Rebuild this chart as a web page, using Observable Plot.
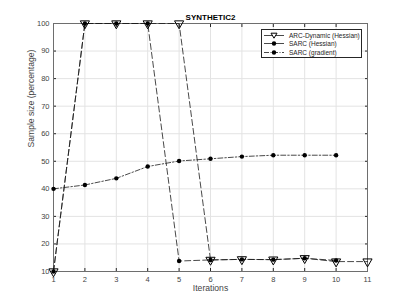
<!DOCTYPE html>
<html>
<head>
<meta charset="utf-8">
<script src="https://cdn.jsdelivr.net/npm/d3@7"></script>
<script src="https://cdn.jsdelivr.net/npm/@observablehq/plot@0.6"></script>
<style>
  html, body { margin: 0; padding: 0; background: #fff; }
  #wrap { position: relative; width: 407px; height: 305px; font-family: "Liberation Sans", Arial, sans-serif; }
  #wrap svg.plot { position: absolute; left: 0; top: 0; }
  #legend { position: absolute; left: 261px; top: 29px; width: 99px; height: 27px; border: 1px solid #262626; background: #fff; font-size: 6.5px; color: #262626; }
  .row { position: absolute; left: 0; height: 9px; display: flex; align-items: center; }
  .row svg { display: block; }
  .row span { margin-left: 3px; white-space: nowrap; }
</style>
</head>
<body>
<div id="wrap"></div>
<script>
const title = "SYNTHETIC2";
const xLabel = "Iterations";
const yLabel = "Sample size (percentage)";
const xTicks = [1, 2, 3, 4, 5, 6, 7, 8, 9, 10, 11];
const yTicks = [10, 20, 30, 40, 50, 60, 70, 80, 90, 100];

const seriesNames = ["ARC-Dynamic (Hessian)", "SARC (Hessian)", "SARC (gradient)"];
const arcIter = [1, 2, 3, 4, 5, 6, 7, 8, 9, 10, 11];
const arcValues = [10, 100, 100, 100, 100, 14.2, 14.4, 14.3, 14.8, 13.6, 13.6];
const sarcHIter = [1, 2, 3, 4, 5, 6, 7, 8, 9, 10];
const sarcHValues = [10, 100, 100, 100, 13.8, 14.2, 14.4, 14.3, 14.8, 14.0];
const sarcGIter = [1, 2, 3, 4, 5, 6, 7, 8, 9, 10];
const sarcGValues = [40, 41.4, 43.8, 48.1, 50.1, 50.9, 51.7, 52.2, 52.2, 52.2];

const arc = arcIter.map((x, i) => ({x, y: arcValues[i]}));
const sarcH = sarcHIter.map((x, i) => ({x, y: sarcHValues[i]}));
const sarcG = sarcGIter.map((x, i) => ({x, y: sarcGValues[i]}));

const lineColor = "#1a1a1a";
const axisColor = "#262626";
const tickText = "#444";
const dashA = "6,3";
const dashB = "6,3";
const dashC = "5,2,1.5,2";

const chart = Plot.plot({
  width: 407,
  height: 305,
  marginLeft: 53,
  marginRight: 40,
  marginTop: 23,
  marginBottom: 34,
  style: {fontFamily: "'Liberation Sans', Arial, sans-serif", fontSize: "7.5px", color: axisColor, background: "#fff"},
  x: {domain: [1, 11]},
  y: {domain: [10, 100]},
  marks: [
    Plot.gridX(xTicks, {stroke: "#e3e3e3", strokeOpacity: 1, strokeWidth: 1}),
    Plot.gridY(yTicks, {stroke: "#e3e3e3", strokeOpacity: 1, strokeWidth: 1}),
    Plot.axisX(xTicks, {anchor: "bottom", tickSize: -3, tickPadding: 8, label: null, stroke: axisColor, fill: tickText}),
    Plot.axisX(xTicks, {anchor: "top", tickSize: -3, tickFormat: () => "", label: null, stroke: axisColor}),
    Plot.axisY(yTicks, {anchor: "left", tickSize: -3, tickPadding: 7, label: null, stroke: axisColor, fill: tickText}),
    Plot.axisY(yTicks, {anchor: "right", tickSize: -3, tickFormat: () => "", label: null, stroke: axisColor}),
    Plot.frame({stroke: "#6e6e6e", strokeWidth: 1}),
    Plot.line(sarcG, {x: "x", y: "y", stroke: lineColor, strokeWidth: 0.8, strokeDasharray: dashC}),
    Plot.line(sarcH, {x: "x", y: "y", stroke: lineColor, strokeWidth: 0.8, strokeDasharray: dashB}),
    Plot.line(arc, {x: "x", y: "y", stroke: lineColor, strokeWidth: 0.8, strokeDasharray: dashA}),
    Plot.dot(sarcG, {x: "x", y: "y", r: 2.2, fill: "#000", stroke: "none"}),
    Plot.dot(sarcH, {x: "x", y: "y", r: 2.2, fill: "#000", stroke: "none"}),
    Plot.dot(arc, {x: "x", y: "y", symbol: "triangle", rotate: 180, r: 3.4, fill: "none", stroke: "#000", strokeWidth: 1}),
    Plot.text([title], {frameAnchor: "top", dy: -9, fontWeight: "bold", fontSize: 8, fill: "#000"}),
    Plot.text([xLabel], {frameAnchor: "bottom", dy: 19, fontSize: 8.6, fill: tickText}),
    Plot.text([yLabel], {frameAnchor: "left", dx: -22, rotate: -90, fontSize: 8.6, fill: tickText})
  ]
});
chart.classList.add("plot");
const wrap = document.getElementById("wrap");
wrap.appendChild(chart);

// Legend
const legend = document.createElement("div");
legend.id = "legend";
const styles = [
  {marker: "tri"},
  {marker: "dot"},
  {marker: "dot"}
];
seriesNames.forEach((name, i) => {
  const row = document.createElement("div");
  row.className = "row";
  row.style.top = (0.5 + i * 8.6) + "px";
  const s = styles[i];
  const ns = "http://www.w3.org/2000/svg";
  const svg = document.createElementNS(ns, "svg");
  svg.setAttribute("width", "24");
  svg.setAttribute("height", "9");
  const ln = document.createElementNS(ns, "line");
  ln.setAttribute("x1", "2"); ln.setAttribute("x2", "22");
  ln.setAttribute("y1", "4.5"); ln.setAttribute("y2", "4.5");
  ln.setAttribute("stroke", lineColor); ln.setAttribute("stroke-width", "0.8");
  if (i === 2) ln.setAttribute("stroke-dasharray", "5,1.5,1,1.5");
  svg.appendChild(ln);
  if (s.marker === "tri") {
    const p = document.createElementNS(ns, "path");
    p.setAttribute("d", "M9,2.2 L15,2.2 L12,7.2 Z");
    p.setAttribute("fill", "#fff"); p.setAttribute("stroke", "#000"); p.setAttribute("stroke-width", "1");
    svg.appendChild(p);
  } else {
    const c = document.createElementNS(ns, "circle");
    c.setAttribute("cx", "12"); c.setAttribute("cy", "4.5"); c.setAttribute("r", "2.2");
    c.setAttribute("fill", "#000");
    svg.appendChild(c);
  }
  row.appendChild(svg);
  const t = document.createElement("span");
  t.textContent = name;
  row.appendChild(t);
  legend.appendChild(row);
});
wrap.appendChild(legend);
</script>
</body>
</html>
